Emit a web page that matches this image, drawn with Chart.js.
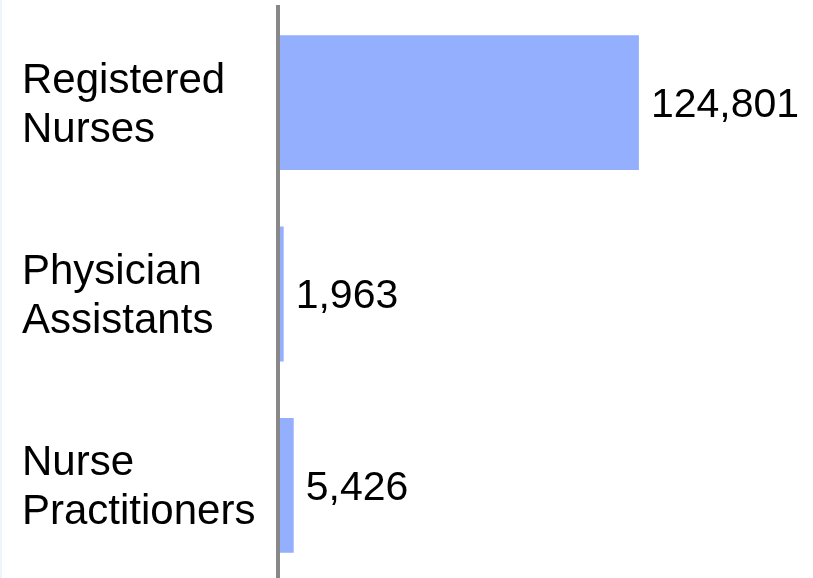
<!DOCTYPE html>
<html>
<head>
<meta charset="utf-8">
<script src="https://cdn.jsdelivr.net/npm/chart.js@4/dist/chart.umd.min.js"></script>
<style>
  html, body { margin: 0; padding: 0; background: #fff; overflow: hidden; }
  body { border-left: 2px solid #eef3fc; box-sizing: border-box; width: 813px; height: 578px; }
  #wrap { position: relative; width: 811px; height: 584px; }
</style>
</head>
<body>
<div id="wrap"><canvas id="grafico"></canvas></div>
<script>
// ================= DADOS =================
const categorias = [
  ["Registered", "Nurses"],
  ["Physician", "Assistants"],
  ["Nurse", "Practitioners"]
];
const valores = [124801, 1963, 5426];
const rotulos = ["124,801", "1,963", "5,426"];

// ================= RÓTULOS NAS BARRAS =================
const rotuloBarras = {
  id: "rotuloBarras",
  afterDatasetsDraw(chart) {
    const c = chart.ctx;
    const meta = chart.getDatasetMeta(0);
    c.save();
    c.fillStyle = "#000";
    c.font = "41px 'Liberation Sans', Arial, sans-serif";
    c.textAlign = "left";
    c.textBaseline = "middle";
    meta.data.forEach((bar, i) => {
      c.fillText(rotulos[i], bar.x + 12, bar.y + 3);
    });
    c.restore();
  }
};

// ================= GRÁFICO =================
const ctx = document.getElementById("grafico").getContext("2d");

new Chart(ctx, {
  type: "bar",
  data: {
    labels: categorias,
    datasets: [{
      data: valores,
      backgroundColor: "#93affd",
      borderWidth: 0,
      barPercentage: 0.705,
      categoryPercentage: 1
    }]
  },
  options: {
    indexAxis: "y",
    responsive: true,
    maintainAspectRatio: false,
    animation: false,
    layout: { padding: { left: 20, top: 7, bottom: 3, right: 0 } },
    plugins: {
      legend: { display: false },
      tooltip: { enabled: false }
    },
    scales: {
      x: {
        display: false,
        min: 0,
        max: 185000
      },
      y: {
        grid: { display: false, drawTicks: false },
        // linha do eixo por cima das barras
        border: { display: true, color: "#888888", width: 4, z: 1 },
        ticks: {
          crossAlign: "far",
          padding: 20,
          labelOffset: 3,
          color: "#000",
          font: { family: "'Liberation Sans', Arial, sans-serif", size: 42, lineHeight: 1.17 }
        },
        afterFit(scale) {
          scale.width = 256;
          scale.paddingTop = 0;
          scale.paddingBottom = 0;
        }
      }
    }
  },
  plugins: [rotuloBarras]
});
</script>
</body>
</html>
